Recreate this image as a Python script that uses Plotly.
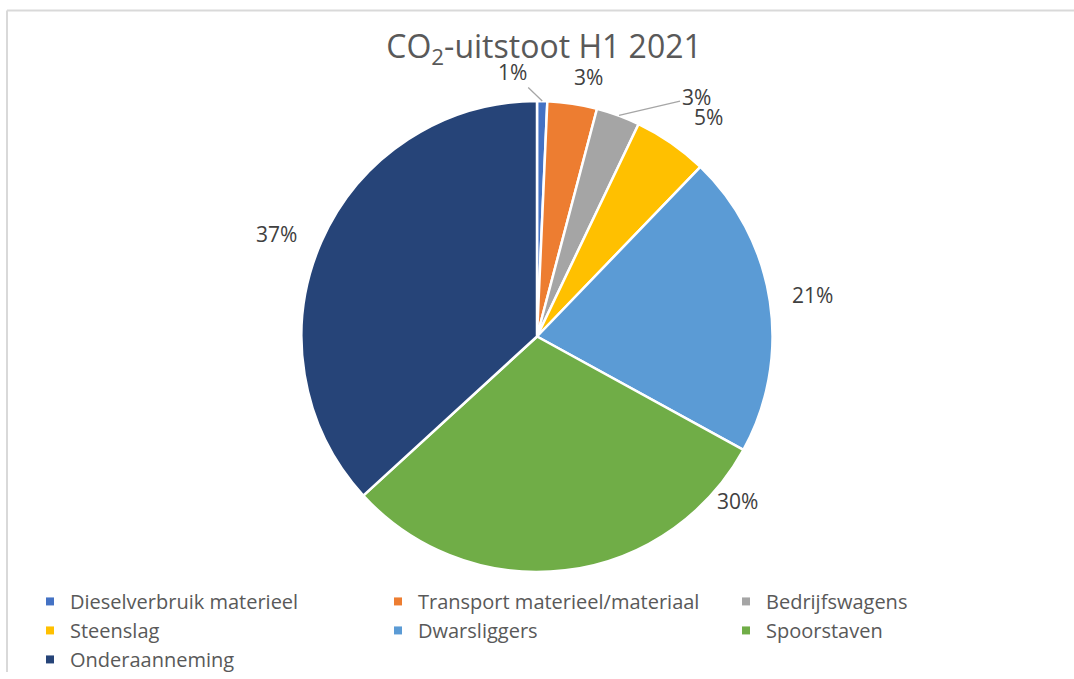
import math
import plotly.graph_objects as go

categories = ["Dieselverbruik materieel", "Transport materieel/materiaal", "Bedrijfswagens",
              "Steenslag", "Dwarsliggers", "Spoorstaven", "Onderaanneming"]
values = [0.7, 3.4, 3.0, 5.1, 20.8, 30.2, 36.8]
colors = ["#4472C4", "#ED7D31", "#A5A5A5", "#FFC000", "#5B9BD5", "#70AD47", "#264478"]
title_text = "CO<sub>2</sub>-uitstoot H1 2021"

W, H = 1074, 679
cx, cy, r = 537, 340, 238

# label layout (style): radial gap beyond the rim, angle nudge (deg), leader offset (px) or None
label_gap = [0, 29, 0, 43, 41, 22, 42]
label_nudge = [0, 2.5, 0, 3, 0, -43.5, -2]
leader = [(-30, -29), None, (77, -18), None, None, None, None]

fig = go.Figure(go.Pie(
    labels=categories, values=values, sort=False, direction="clockwise", rotation=0,
    marker=dict(colors=colors, line=dict(color="white", width=2.5)),
    textposition="none", textinfo="none", showlegend=False,
    domain=dict(x=[(cx - r) / W, (cx + r) / W], y=[1 - (cy + r) / H, 1 - (cy - r) / H]),
    hoverinfo="label+percent",
))

# legend entries with small square keys
for name, col in zip(categories, colors):
    fig.add_trace(go.Scatter(x=[None], y=[None], mode="markers", name=name,
                             marker=dict(symbol="square", size=8, color=col),
                             showlegend=True, hoverinfo="skip"))

total = sum(values)
annotations = []
cum = 0.0
lab_font = dict(family="Open Sans", size=21, color="#404040")
for i, v in enumerate(values):
    frac = v / total
    mid = cum + frac / 2
    cum += frac
    pct = f"{round(frac * 100):.0f}%"
    if leader[i] is not None:
        th = math.radians(mid * 360)
        ex, ey = cx + r * math.sin(th), cy - r * math.cos(th)
        annotations.append(dict(
            x=ex / W, y=1 - ey / H, xref="paper", yref="paper", text=pct, showarrow=True,
            ax=leader[i][0], ay=leader[i][1], arrowhead=0, arrowwidth=1.3, arrowcolor="#A6A6A6",
            standoff=0, font=lab_font))
    else:
        th = math.radians(mid * 360 + label_nudge[i])
        rr = r + label_gap[i]
        lx, ly = cx + rr * math.sin(th), cy - rr * math.cos(th)
        annotations.append(dict(
            x=lx / W, y=1 - ly / H, xref="paper", yref="paper", text=pct, showarrow=False,
            xanchor="center", yanchor="middle", font=lab_font))

fig.update_layout(
    width=W, height=H, margin=dict(l=0, r=0, t=0, b=0),
    paper_bgcolor="white", plot_bgcolor="white",
    xaxis=dict(visible=False), yaxis=dict(visible=False),
    title=dict(text=title_text, x=544 / W, xanchor="center", y=1 - 47 / H, yanchor="middle",
               font=dict(family="Open Sans", size=32, color="#595959")),
    legend=dict(orientation="h", x=45 / W, xanchor="left", y=1 - 588 / H, yanchor="top",
                entrywidth=303, entrywidthmode="pixels", traceorder="normal",
                font=dict(family="Open Sans", size=20, color="#595959")),
    annotations=annotations,
    shapes=[
        dict(type="line", xref="paper", yref="paper", x0=7 / W, x1=1.0, y0=1 - 10.5 / H, y1=1 - 10.5 / H,
             line=dict(color="#D9D9D9", width=2)),
        dict(type="line", xref="paper", yref="paper", x0=7 / W, x1=7 / W, y0=0, y1=1 - 10.5 / H,
             line=dict(color="#D9D9D9", width=2)),
    ],
)

fig.write_html("out.html", config={"displayModeBar": False},
               post_script="document.body.style.margin='0';document.body.style.overflow='hidden';")
